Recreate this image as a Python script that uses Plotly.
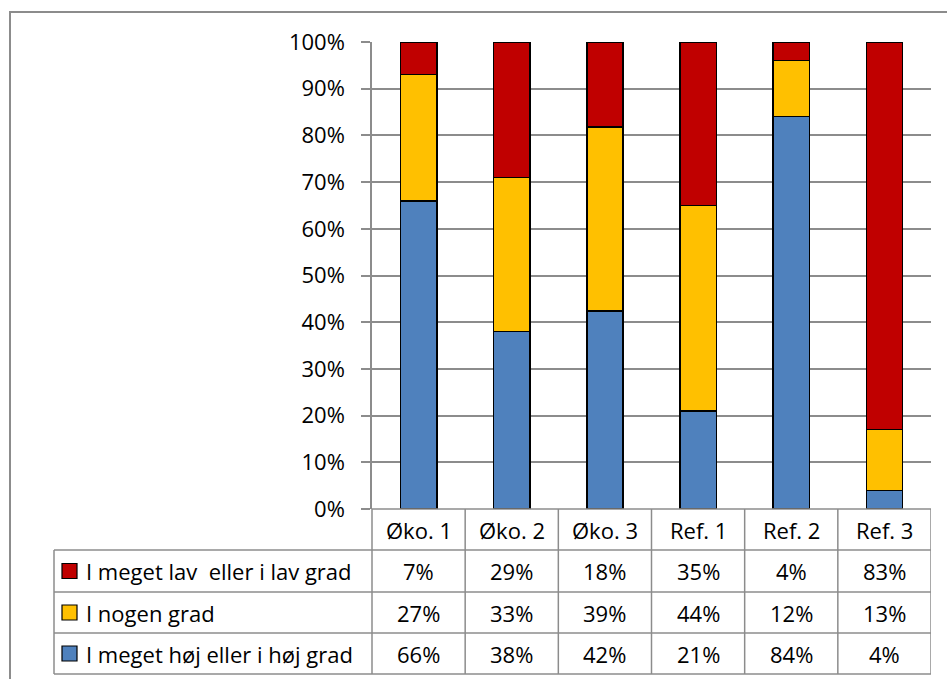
import plotly.graph_objects as go

categories = ["Øko. 1", "Øko. 2", "Øko. 3", "Ref. 1", "Ref. 2", "Ref. 3"]
series_names = ["I meget lav  eller i lav grad", "I nogen grad", "I meget høj eller i høj grad"]
low_vals = [7, 29, 18, 35, 4, 83]
some_vals = [27, 33, 39, 44, 12, 13]
high_vals = [66, 38, 42, 21, 84, 4]
colors = ["#C00000", "#FFC000", "#4F81BD"]
y_ticks = [0, 10, 20, 30, 40, 50, 60, 70, 80, 90, 100]

W, H = 947, 679
FONT = "Open Sans"
FS = 22
GRAY = "#8C8C8C"


def fx(px):
    return px / W


def fy(py):
    return 1 - py / H


fig = go.Figure()
# stacked bottom-to-top: high, some, low
for name, vals, col in [(series_names[2], high_vals, colors[2]),
                        (series_names[1], some_vals, colors[1]),
                        (series_names[0], low_vals, colors[0])]:
    fig.add_trace(go.Bar(x=list(range(len(categories))), y=vals, name=name,
                         marker=dict(color=col, line=dict(color="black", width=1.5)),
                         width=0.39, showlegend=False))

x0px, x1px = 372, 931
ytop, ybot = 42, 509
fig.update_layout(
    width=W, height=H, autosize=False, barmode="stack", barnorm="percent",
    margin=dict(l=0, r=0, t=0, b=0, pad=0, autoexpand=False),
    showlegend=False,
    paper_bgcolor="white", plot_bgcolor="white",
    font=dict(family=FONT, size=FS, color="black"),
    xaxis=dict(domain=[fx(x0px), fx(x1px)], range=[-0.5, len(categories) - 0.5],
               showticklabels=False, showgrid=False, zeroline=False, ticks="",
               showline=False, fixedrange=True, automargin=False),
    yaxis=dict(domain=[fy(ybot), fy(ytop)], range=[0, 100],
               tickvals=y_ticks, ticktext=[f"{v}%" for v in y_ticks],
               showgrid=True, gridcolor=GRAY, gridwidth=1.5, zeroline=False,
               showline=True, linecolor=GRAY, linewidth=1.5,
               ticks="outside", ticklen=9, tickcolor=GRAY, tickwidth=1.5,
               ticklabelstandoff=12, tickfont=dict(family=FONT, size=FS),
               fixedrange=True, automargin=False),
)

shapes = []
# outer border
shapes.append(dict(type="rect", xref="paper", yref="paper",
                   x0=fx(10), x1=fx(W + 10), y0=fy(H + 10), y1=fy(12),
                   line=dict(color=GRAY, width=2), fillcolor="rgba(0,0,0,0)", layer="below"))
# table geometry
row_lines = [550, 592, 633, 674]
tbl_left = 54
shapes.append(dict(type="line", xref="paper", yref="paper", x0=fx(x0px), x1=fx(x1px),
                   y0=fy(ybot), y1=fy(ybot), line=dict(color=GRAY, width=1.5)))
for ry in row_lines:
    shapes.append(dict(type="line", xref="paper", yref="paper", x0=fx(tbl_left), x1=fx(x1px),
                       y0=fy(ry), y1=fy(ry), line=dict(color=GRAY, width=1.5)))
shapes.append(dict(type="line", xref="paper", yref="paper", x0=fx(tbl_left), x1=fx(tbl_left),
                   y0=fy(row_lines[0]), y1=fy(row_lines[-1]), line=dict(color=GRAY, width=1.5)))
shapes.append(dict(type="line", xref="paper", yref="paper", x0=fx(x0px), x1=fx(x0px),
                   y0=fy(ybot), y1=fy(row_lines[-1]), line=dict(color=GRAY, width=1.5)))
for i in range(len(categories)):
    shapes.append(dict(type="line", xref="x", yref="paper", x0=i + 0.5, x1=i + 0.5,
                       y0=fy(ybot), y1=fy(row_lines[-1]), line=dict(color=GRAY, width=1.5)))

annotations = []
header_center = (ybot + row_lines[0]) / 2
for i, c in enumerate(categories):
    annotations.append(dict(x=i, y=fy(header_center), xref="x", yref="paper", text=c,
                            showarrow=False, font=dict(family=FONT, size=FS),
                            xanchor="center", yanchor="middle"))
rows = [(series_names[0], low_vals, colors[0]),
        (series_names[1], some_vals, colors[1]),
        (series_names[2], high_vals, colors[2])]
for r, (name, vals, col) in enumerate(rows):
    top, bot = row_lines[r], row_lines[r + 1]
    cy = (top + bot) / 2
    shapes.append(dict(type="rect", xref="paper", yref="paper",
                       x0=fx(62), x1=fx(77), y0=fy(cy + 7.5), y1=fy(cy - 7.5),
                       fillcolor=col, line=dict(color="black", width=1.2)))
    annotations.append(dict(x=fx(84), y=fy(cy), xref="paper", yref="paper", text=name,
                            showarrow=False, font=dict(family=FONT, size=FS),
                            xanchor="left", yanchor="middle"))
    for i, v in enumerate(vals):
        annotations.append(dict(x=i, y=fy(cy), xref="x", yref="paper", text=f"{v}%",
                                showarrow=False, font=dict(family=FONT, size=FS),
                                xanchor="center", yanchor="middle"))

fig.update_layout(shapes=shapes, annotations=annotations)
fig.write_html("out.html")
